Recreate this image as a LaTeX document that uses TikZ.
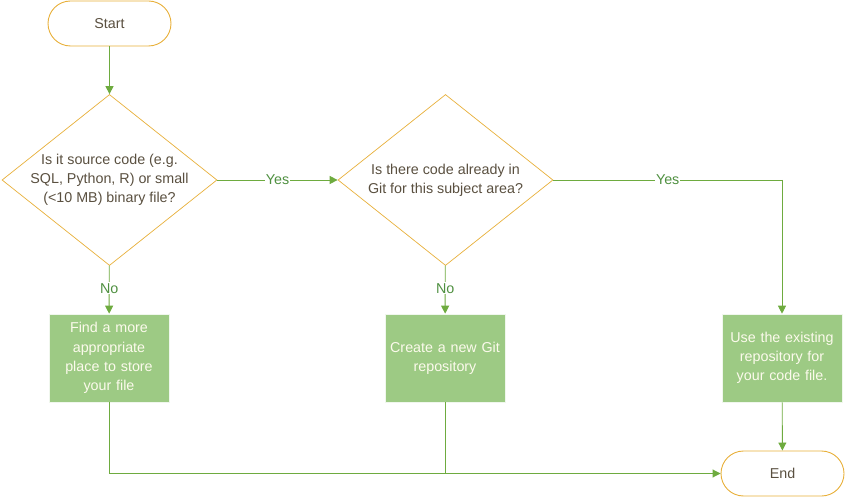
\documentclass[tikz,border=0pt]{standalone}
\usepackage{fontspec}
\setmainfont{Liberation Sans}
\usetikzlibrary{shapes.geometric,arrows.meta}
\definecolor{gold}{HTML}{E8B03A}
\definecolor{lgreen}{HTML}{6EAB3F}
\definecolor{boxfill}{HTML}{9DCA84}
\definecolor{dtext}{HTML}{5A5040}
\definecolor{ltext}{HTML}{FCFAEC}
\definecolor{labgreen}{HTML}{4F9040}
\begin{document}
\begin{tikzpicture}[x=1pt,y=-1pt,
  font=\fontsize{14.3}{19.3}\selectfont,
  term/.style={draw=gold,line width=0.9pt,fill=white,rounded corners=22.5pt,minimum width=123pt,minimum height=45pt,inner sep=0pt,text=dtext},
  decision/.style={draw=gold,line width=0.7pt,fill=white,shape=diamond,minimum width=215pt,minimum height=171pt,inner sep=0pt},
  dtxt/.style={text=dtext,align=center,inner sep=0pt},
  action/.style={draw=white!85!boxfill,line width=0.6pt,fill=boxfill,minimum width=120pt,minimum height=88pt,inner sep=1pt,text width=118pt,align=center,text=ltext},
  flow/.style={draw=lgreen,line width=0.9pt},
  arr/.style={flow,-{Triangle[length=8pt,width=8pt]}},
  lab/.style={fill=white,text=labgreen,inner sep=1pt}
]
\useasboundingbox (0,0) rectangle (849,497);
\node[term] (start) at (109.5,23.5) {Start};
\node[decision,label={[dtxt]center:Is it source code (e.g.\\SQL, Python, R) or small\\(<10 MB) binary file?}] (d1) at (109.5,180) {};
\node[decision,label={[dtxt]center:Is there code already in\\Git for this subject area?}] (d2) at (445.5,180) {};
\node[action] (b1) at (109,358) {Find a more\\appropriate\\place to store\\your file};
\node[action] (b2) at (445,358) {Create a new Git\\repository};
\node[action] (b3) at (782,358) {Use the existing\\repository for\\your code file.};
\node[term] (end) at (782.5,473.5) {End};
\coordinate (j1) at (109,473.5);
\coordinate (j2) at (445,473.5);
\coordinate (c3) at (782,180);

\draw[arr] (start) -- (d1);
\draw[arr] (d1) -- node[lab] {Yes} (d2);
\draw[arr] (d1) -- node[lab,pos=0.47] {No} (b1);
\draw[arr] (d2) -- node[lab,pos=0.47] {No} (b2);
\draw[flow] (d2.east) -- node[lab] {Yes} (c3);
\draw[arr] (c3) -- (b3);
\draw[arr] (b3) -- (end);
\draw[flow] (b1.south) -- (j1);
\draw[flow] (b2.south) -- (j2);
\draw[arr] (j1) -- (end.west);
\end{tikzpicture}
\end{document}
